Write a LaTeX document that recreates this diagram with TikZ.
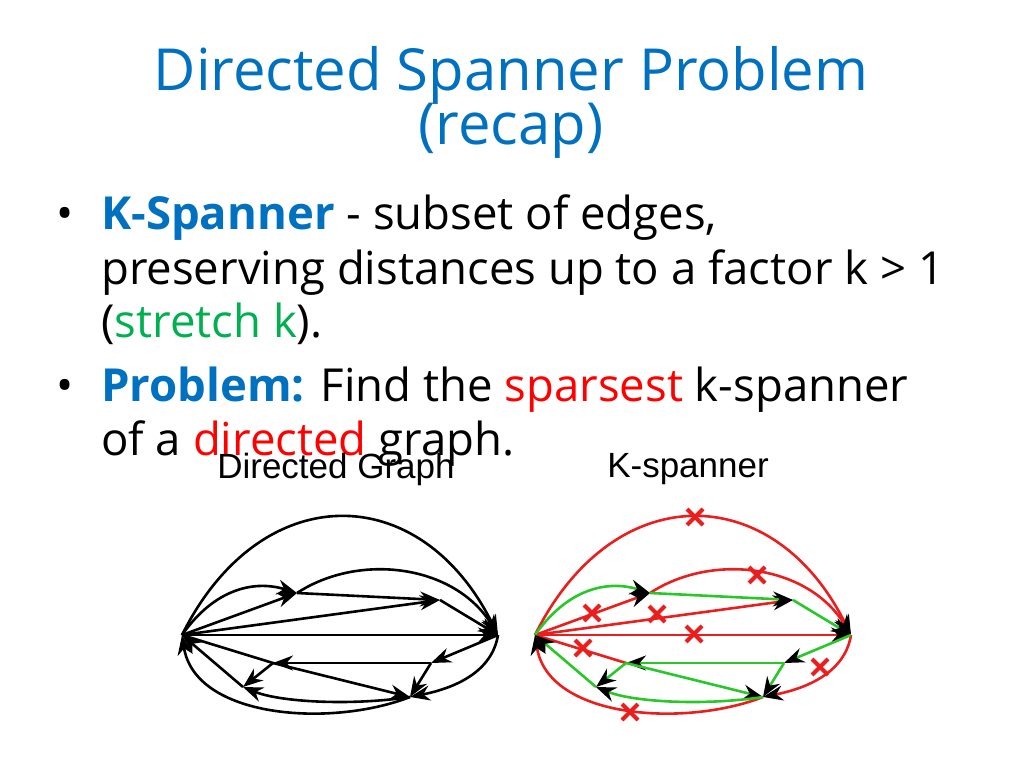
\documentclass[tikz,border=0pt]{standalone}
\usepackage{fontspec}
\setmainfont{Open Sans}
\newfontfamily\arialfont{Liberation Sans}
\usetikzlibrary{arrows.meta}
\definecolor{titleblue}{RGB}{0,112,192}
\definecolor{kgreen}{RGB}{0,176,80}
\definecolor{egreen}{RGB}{40,200,40}
\definecolor{ered}{RGB}{235,30,30}
\begin{document}
\begin{tikzpicture}
[x=1pt,y=-1pt,
  bodyText/.style={anchor=base west,inner sep=0pt,font=\fontsize{45.5}{45.5}\selectfont},%
  edgeArrow/.style={-{Stealth[black,length=20pt,width=15pt]}},%
  xmark/.pic={\draw[ered,line width=4pt] (-8,-8)--(8,8) (-8,8)--(8,-8);}]
\useasboundingbox (0,0) rectangle (1024,768);
%% title and text
\node (title1) at (511,75) [text=titleblue,font=\fontsize{58}{58}\selectfont] {Directed Spanner Problem};
\node (title2) at (511,131) [text=titleblue,font=\fontsize{58}{58}\selectfont] {(recap)};
\node (b1) at (56,229) [bodyText] {\textbullet};
\node (t1) at (101,229) [bodyText] {\textcolor{titleblue}{\textbf{K-Spanner}} - subset of edges,};
\node (t2) at (101,284) [bodyText] {preserving distances up to a factor k > 1};
\node (t3) at (101,337) [bodyText] {(\textcolor{kgreen}{stretch k}).};
\node (b2) at (56,401) [bodyText] {\textbullet};
\node (t4) at (101,401) [bodyText] {\textcolor{titleblue}{\textbf{Problem:}} Find the \textcolor{red}{sparsest} k-spanner};
\node (t5) at (101,455) [bodyText] {of a \textcolor{red}{directed} graph.};
\node (lblL) at (336,469) [font=\arialfont\fontsize{35}{35}\selectfont] {Directed Graph};
\node (lblR) at (688,469) [font=\arialfont\fontsize{35}{35}\selectfont] {K-spanner};
%% the two graphs
\foreach \g/\dx/\good/\bad in {L/0/black/black, R/353/egreen/ered}
{
  \begin{scope}[xshift=\dx, line width=2.6pt]
    \foreach \nodename/\x/\y in {S/182/635, T/498/635, A/297/593, B/440/600,
                                 C/431/663, D/273/663, E/410/697, F/243/687}
    {
      \coordinate (\g\nodename) at (\x,\y);
    }
    %% removed edges
    \draw[edgeArrow,\bad] (\g S) .. controls (260,478) and (420,478) .. (\g T);
    \draw[edgeArrow,\bad] (\g A) .. controls (360,552) and (455,565) .. (\g T);
    \draw[edgeArrow,\bad] (\g S) -- (\g A);
    \draw[edgeArrow,\bad] (\g S) -- (\g B);
    \draw[edgeArrow,\bad] (\g S) -- (\g T);
    \draw[\bad] (\g S) -- (\g D);
    \draw[edgeArrow,\bad] (\g T) .. controls (492,672) and (455,688) .. (\g E);
    \draw[edgeArrow,\bad] (\g E) .. controls (330,728) and (195,718) .. (\g S);
    %% kept edges
    \draw[edgeArrow,\good] (\g S) .. controls (215,588) and (255,580) .. (\g A);
    \draw[edgeArrow,\good] (\g A) -- (\g B);
    \draw[edgeArrow,\good] (\g B) -- (\g T);
    \draw[edgeArrow,\good] (\g T) -- (\g C);
    \draw[edgeArrow,\good] (\g C) -- (\g D);
    \draw[edgeArrow,\good] (\g C) -- (\g E);
    \draw[edgeArrow,\good] (\g D) -- (\g F);
    \draw[edgeArrow,\good] (\g D) -- (\g E);
    \draw[edgeArrow,\good] (\g E) .. controls (350,706) and (280,702) .. (\g F);
    \draw[edgeArrow,\good] (\g F) -- (\g S);
  \end{scope}
}
%% crosses on removed edges
\foreach \x/\y in {695/517, 757/575, 592/613, 657/614, 694/634, 583/648, 820/667, 630/712}
{
  \pic at (\x,\y) {xmark};
}
\end{tikzpicture}
\end{document}
